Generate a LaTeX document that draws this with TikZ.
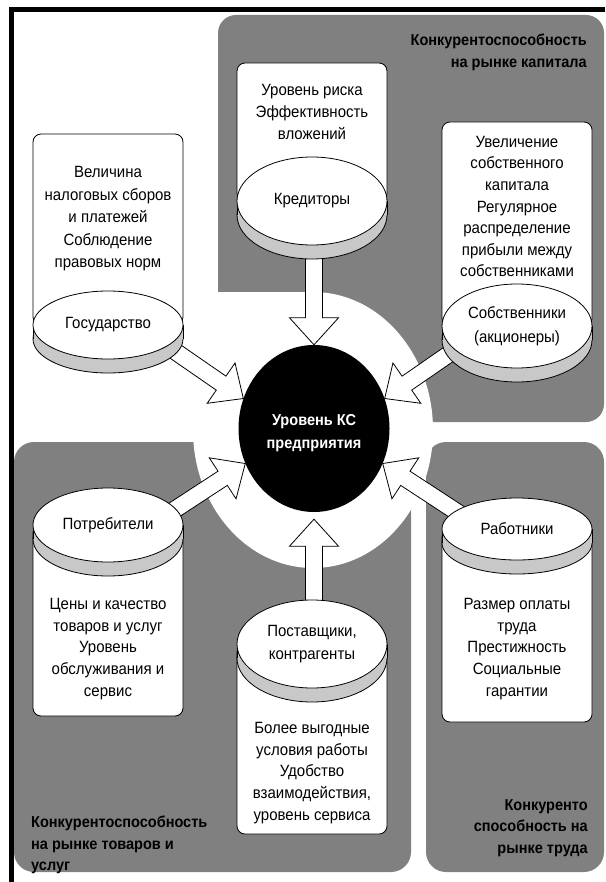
\documentclass[tikz,border=0pt]{standalone}
\usepackage{fontspec}
\setmainfont{Liberation Sans}[FakeStretch=0.92]
\usetikzlibrary{shapes.geometric,calc}
\definecolor{bggray}{RGB}{128,128,128}
\definecolor{bandgray}{RGB}{200,200,200}
\pgfdeclarelayer{bg}
\pgfdeclarelayer{arr}
\pgfsetlayers{bg,arr,main}
\tikzset{
  outl/.style={draw=black, line width=0.8pt},
  boxst/.style={outl, fill=white, rounded corners=8pt},
  discface/.style={ellipse, outl, fill=white, minimum width=150pt, inner sep=0pt, align=center, font=\fontsize{16.3}{23.5}\selectfont},
  txt/.style={align=center, inner sep=0pt, font=\fontsize{16.3}{21.6}\selectfont},
  headtxt/.style={inner sep=0pt, font=\bfseries\fontsize{15.8}{21.8}\selectfont},
  kscore/.style={ellipse, fill=black, minimum width=151pt, minimum height=167pt, inner sep=0pt},
  kstext/.style={inner sep=0pt, align=center, text=white, font=\bfseries\fontsize{15.8}{23}\selectfont},
  blockarr/.style={outl, fill=white, line join=miter}
}
\newcommand\mkdisc[5]{%
  \draw[outl, fill=bandgray] (#2,#3+14) ellipse [x radius=75pt, y radius=#4pt];
  \fill[bandgray] (#2-75,#3) rectangle (#2+75,#3+14);
  \draw[outl] (#2-75,#3) -- (#2-75,#3+14) (#2+75,#3) -- (#2+75,#3+14);
  \node[discface, minimum height=2*#4pt] (#1) at (#2,#3) {#5};
}
\newcommand\blockarrow[2]{%
  \draw[blockarr] ($(#1)!8.5pt!90:(#2)$)
    -- ($(#2)!27pt!(#1)!8.5pt!90:(#2)$)
    -- ($(#2)!27pt!(#1)!24.5pt!90:(#2)$)
    -- (#2)
    -- ($(#2)!27pt!(#1)!24.5pt!-90:(#2)$)
    -- ($(#2)!27pt!(#1)!8.5pt!-90:(#2)$)
    -- ($(#1)!8.5pt!-90:(#2)$) -- cycle;
}
\begin{document}
\begin{tikzpicture}[x=1pt,y=-1pt]
\useasboundingbox (0,0) rectangle (605,882);
% centre
\node[kscore] (ks) at (314,428.5) {};
\node[kstext] (kslabel) at (314,433) {Уровень КС\\предприятия};
% discs
\mkdisc{gos}{108}{325}{34}{Государство}
\mkdisc{kred}{312}{201}{44}{Кредиторы}
\mkdisc{sobs}{517}{326}{42}{Собственники\\(акционеры)}
\mkdisc{potr}{108}{525}{37}{Потребители}
\mkdisc{post}{312}{644}{44}{Поставщики,\\контрагенты}
\mkdisc{rab}{517}{529}{31}{Работники}
% box texts
\node[txt, font=\fontsize{16.3}{22.5}\selectfont] (gostxt) at (108,219) {Величина\\налоговых сборов\\и платежей\\Соблюдение\\правовых норм};
\node[txt] (kredtxt) at (312,112) {Уровень риска\\Эффективность\\вложений};
\node[txt] (sobstxt) at (517,206.5) {Увеличение\\собственного\\капитала\\Регулярное\\распределение\\прибыли между\\собственниками};
\node[txt] (potrtxt) at (108,649) {Цены и качество\\товаров и услуг\\Уровень\\обслуживания и\\сервис};
\node[txt] (posttxt) at (312,773) {Более выгодные\\условия работы\\Удобство\\взаимодействия,\\уровень сервиса};
\node[txt] (rabtxt) at (517,649) {Размер оплаты\\труда\\Престижность\\Социальные\\гарантии};
% headings
\node[headtxt, anchor=east, align=right] (hcap) at (587,52.5) {Конкурентоспособность\\на рынке капитала};
\node[headtxt, anchor=west, align=left] (hgoods) at (31,845) {Конкурентоспособность\\на рынке товаров и\\услуг};
\node[headtxt, anchor=east, align=right] (hlab) at (588,828) {Конкуренто\\способность на\\рынке труда};
\begin{pgfonlayer}{bg}
  \fill[bggray, rounded corners=18pt] (218,15) rectangle (604,422);
  \fill[white] (214,292) rectangle (314,426);
  \fill[bggray, rounded corners=20pt] (14,442) rectangle (411,872);
  \fill[bggray, rounded corners=20pt] (426,442) rectangle (604,872);
  \fill[white] (313,430) ellipse [x radius=120pt, y radius=138pt];
  \draw[line width=5pt] (11,882) -- (11,9.8) -- (605,9.8);
  \draw[boxst] (33,134) rectangle (183,325);
  \draw[boxst] (237,63) rectangle (387,201);
  \draw[boxst] (442,122) rectangle (592,326);
  \draw[boxst] (33,525) rectangle (183,716);
  \draw[boxst] (237,644) rectangle (387,834);
  \draw[boxst] (442,529) rectangle (592,722);
\end{pgfonlayer}
\begin{pgfonlayer}{arr}
  \coordinate (gostail) at (161.6,342);
  \coordinate (sobstail) at (466.4,342);
  \coordinate (potrtail) at (161.6,518.2);
  \coordinate (rabtail) at (466.4,518.2);
  \coordinate (kredtail) at (314,235);
  \coordinate (posttail) at (314,650);
  \coordinate (posttip) at ($(ks.south)+(0,7)$);
  \blockarrow{kredtail}{ks.north}
  \blockarrow{posttail}{posttip}
  \blockarrow{gostail}{ks.157}
  \blockarrow{sobstail}{ks.23}
  \blockarrow{potrtail}{ks.207}
  \blockarrow{rabtail}{ks.333}
\end{pgfonlayer}
\end{tikzpicture}
\end{document}
